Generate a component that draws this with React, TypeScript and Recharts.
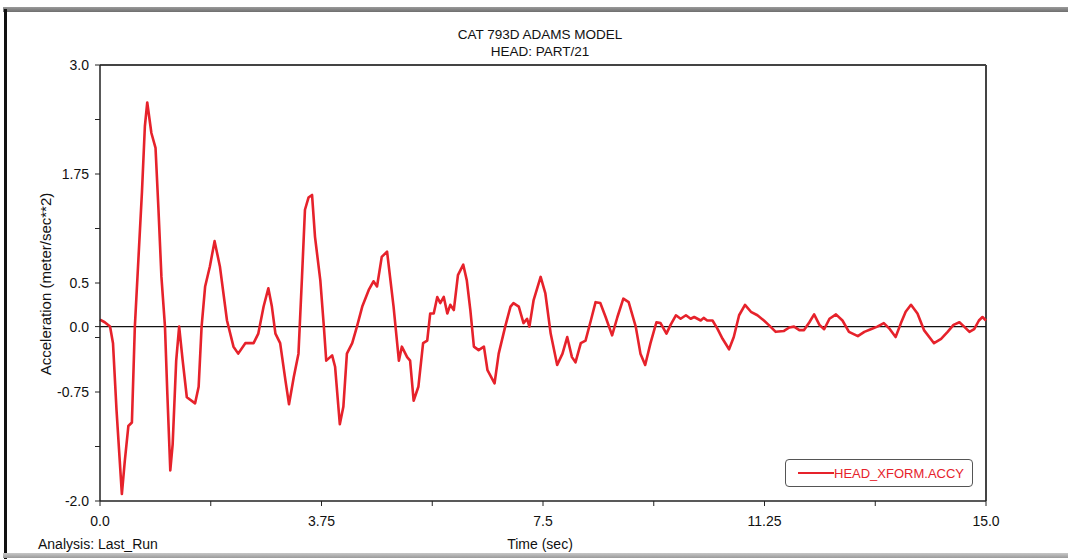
import { LineChart, Line, XAxis, YAxis, ReferenceLine } from 'recharts';

// ADAMS head acceleration
const timeSec = [
  0.0, 0.08, 0.17, 0.22, 0.28, 0.37, 0.42, 0.48, 0.54, 0.59,
  0.65, 0.71, 0.76, 0.8, 0.87, 0.94, 0.99, 1.04, 1.1, 1.14,
  1.19, 1.23, 1.29, 1.34, 1.4, 1.47, 1.61, 1.67, 1.72, 1.78,
  1.86, 1.94, 2.03, 2.15, 2.26, 2.34, 2.46, 2.6, 2.68, 2.77,
  2.85, 2.91, 2.97, 3.05, 3.14, 3.2, 3.28, 3.36, 3.42, 3.47,
  3.53, 3.59, 3.64, 3.73, 3.79, 3.83, 3.93, 3.98, 4.06, 4.12,
  4.18, 4.27, 4.35, 4.44, 4.55, 4.63, 4.69, 4.77, 4.86, 4.97,
  5.06, 5.11, 5.2, 5.25, 5.31, 5.39, 5.47, 5.54, 5.59, 5.65,
  5.71, 5.76, 5.82, 5.88, 5.93, 5.99, 6.06, 6.15, 6.21, 6.27,
  6.33, 6.41, 6.5, 6.56, 6.68, 6.75, 6.86, 6.95, 7.0, 7.09,
  7.17, 7.23, 7.27, 7.34, 7.46, 7.54, 7.63, 7.74, 7.83, 7.91,
  7.99, 8.05, 8.14, 8.22, 8.31, 8.39, 8.47, 8.56, 8.67, 8.76,
  8.86, 8.95, 9.07, 9.15, 9.23, 9.32, 9.42, 9.49, 9.59, 9.66,
  9.75, 9.83, 9.92, 10.0, 10.06, 10.17, 10.22, 10.28, 10.37, 10.45,
  10.54, 10.65, 10.73, 10.82, 10.92, 11.02, 11.13, 11.24, 11.32, 11.44,
  11.58, 11.67, 11.75, 11.84, 11.92, 12.01, 12.09, 12.18, 12.26, 12.35,
  12.46, 12.57, 12.68, 12.83, 12.94, 13.05, 13.16, 13.27, 13.36, 13.47,
  13.56, 13.64, 13.73, 13.84, 13.95, 14.12, 14.24, 14.35, 14.45, 14.55,
  14.63, 14.72, 14.8, 14.88, 14.94, 15.0,
];

const accelY = [
  0.08, 0.05, 0.0, -0.19, -0.96, -1.92, -1.54, -1.14, -1.1, 0.0,
  0.77, 1.54, 2.3, 2.57, 2.22, 2.05, 1.34, 0.57, 0.0, -0.77,
  -1.65, -1.35, -0.39, 0.0, -0.39, -0.81, -0.88, -0.69, 0.0, 0.46,
  0.69, 0.98, 0.69, 0.07, -0.23, -0.31, -0.19, -0.19, -0.08, 0.23,
  0.44, 0.23, -0.08, -0.19, -0.62, -0.89, -0.58, -0.31, 0.57, 1.34,
  1.48, 1.51, 1.03, 0.53, 0.0, -0.39, -0.33, -0.46, -1.12, -0.92,
  -0.31, -0.19, 0.0, 0.23, 0.42, 0.52, 0.46, 0.8, 0.86, 0.23,
  -0.39, -0.23, -0.35, -0.39, -0.85, -0.69, -0.19, -0.16, 0.15, 0.15,
  0.34, 0.27, 0.34, 0.15, 0.25, 0.19, 0.59, 0.71, 0.53, 0.19,
  -0.23, -0.27, -0.23, -0.5, -0.65, -0.31, 0.0, 0.23, 0.27, 0.23,
  0.04, 0.09, 0.0, 0.3, 0.57, 0.38, -0.08, -0.44, -0.31, -0.12,
  -0.35, -0.41, -0.19, -0.16, 0.07, 0.28, 0.27, 0.11, -0.1, 0.11,
  0.32, 0.28, 0.0, -0.31, -0.44, -0.19, 0.05, 0.04, -0.08, 0.02,
  0.13, 0.09, 0.13, 0.09, 0.11, 0.07, 0.1, 0.07, 0.07, -0.02,
  -0.14, -0.26, -0.12, 0.13, 0.25, 0.17, 0.13, 0.07, 0.02, -0.06,
  -0.05, -0.01, 0.0, -0.04, -0.04, 0.05, 0.14, 0.02, -0.03, 0.09,
  0.14, 0.07, -0.06, -0.11, -0.06, -0.03, 0.0, 0.04, -0.02, -0.12,
  0.04, 0.17, 0.25, 0.15, -0.04, -0.19, -0.14, -0.06, 0.02, 0.05,
  0.0, -0.06, -0.03, 0.07, 0.11, 0.07,
];

const xTicks = [0, 1.875, 3.75, 5.625, 7.5, 9.375, 11.25, 13.125, 15];
const xTickLabels = ['0.0', '', '3.75', '', '7.5', '', '11.25', '', '15.0'];
const yTicks = [3, 2.375, 1.75, 1.125, 0.5, 0, -0.125, -0.75, -1.375, -2];
const yTickLabels = ['3.0', '', '1.75', '', '0.5', '0.0', '', '-0.75', '', '-2.0'];

const data = timeSec.map((t, i) => ({ t, accy: accelY[i] }));

const FONT = "'Liberation Sans', Arial, sans-serif";
const RED = '#e6222b';

// legend drawn as a plain box so it doesn't eat plot space
const LegendBox = () => (
  <div
    style={{
      position: 'absolute',
      left: 785,
      top: 459,
      boxSizing: 'border-box',
      width: 188,
      height: 28,
      border: '1.5px solid #555',
      borderRadius: 4,
      display: 'flex',
      alignItems: 'center',
      paddingLeft: 12,
      fontFamily: FONT,
      fontSize: 13,
      color: RED,
    }}
  >
    <span style={{ display: 'inline-block', width: 36, height: 0, borderTop: `2px solid ${RED}` }} />
    <span>HEAD_XFORM.ACCY</span>
  </div>
);

export default function App() {
  return (
    <div style={{ position: 'absolute', left: 0, top: 0, width: 1068, height: 559, background: '#fff', overflow: 'hidden' }}>
      {/* scanned page edges */}
      <div style={{ position: 'absolute', left: 3, top: 7, width: 1065, height: 5, background: 'linear-gradient(#9a9a9a, #6e6e6e)' }} />
      <div style={{ position: 'absolute', left: 4, top: 9, width: 3, height: 550, background: '#111' }} />
      <div style={{ position: 'absolute', left: 3, top: 553, width: 1065, height: 5, background: 'linear-gradient(#c8c8c8, #9a9a9a)' }} />

      <LineChart width={1068} height={559} data={data} margin={{ top: 65, right: 82, bottom: 28, left: 40 }}>
        <XAxis
          dataKey="t"
          type="number"
          domain={[0, 15]}
          ticks={xTicks}
          interval={0}
          height={30}
          tickSize={5}
          tickMargin={10}
          tickFormatter={(v: number) => xTickLabels[xTicks.indexOf(v)]}
          tick={{ fill: '#111', fontSize: 14, fontFamily: FONT }}
          axisLine={{ stroke: '#222', strokeWidth: 1.5 }}
          tickLine={{ stroke: '#222' }}
        />
        <YAxis
          type="number"
          domain={[-2, 3]}
          ticks={yTicks}
          interval={0}
          width={60}
          tickSize={5}
          tickMargin={6}
          allowDataOverflow
          tickFormatter={(v: number) => yTickLabels[yTicks.indexOf(v)]}
          tick={{ fill: '#111', fontSize: 14, fontFamily: FONT }}
          axisLine={{ stroke: '#222', strokeWidth: 1.5 }}
          tickLine={{ stroke: '#222' }}
        />
        <ReferenceLine y={3} stroke="#444" strokeWidth={2} />
        <ReferenceLine x={15} stroke="#444" strokeWidth={2} />
        <ReferenceLine y={0} stroke="#111" strokeWidth={1.2} />
        <Line
          type="linear"
          dataKey="accy"
          name="HEAD_XFORM.ACCY"
          stroke={RED}
          strokeWidth={2.6}
          strokeLinejoin="round"
          dot={false}
          isAnimationActive={false}
        />
      </LineChart>

      <LegendBox />

      <svg width={1068} height={559} style={{ position: 'absolute', left: 0, top: 0, pointerEvents: 'none' }}>
        <g fontFamily={FONT} fill="#111">
          <text x={540} y={39} textAnchor="middle" fontSize={13.5}>CAT 793D ADAMS MODEL</text>
          <text x={540} y={56} textAnchor="middle" fontSize={13.5}>HEAD: PART/21</text>
          <text x={38} y={549} fontSize={14}>Analysis:  Last_Run</text>
          <text x={540} y={549} textAnchor="middle" fontSize={14}>Time (sec)</text>
          <text x={51} y={284} textAnchor="middle" fontSize={15} transform="rotate(-90 51 284)">
            Acceleration (meter/sec**2)
          </text>
        </g>
      </svg>
    </div>
  );
}
